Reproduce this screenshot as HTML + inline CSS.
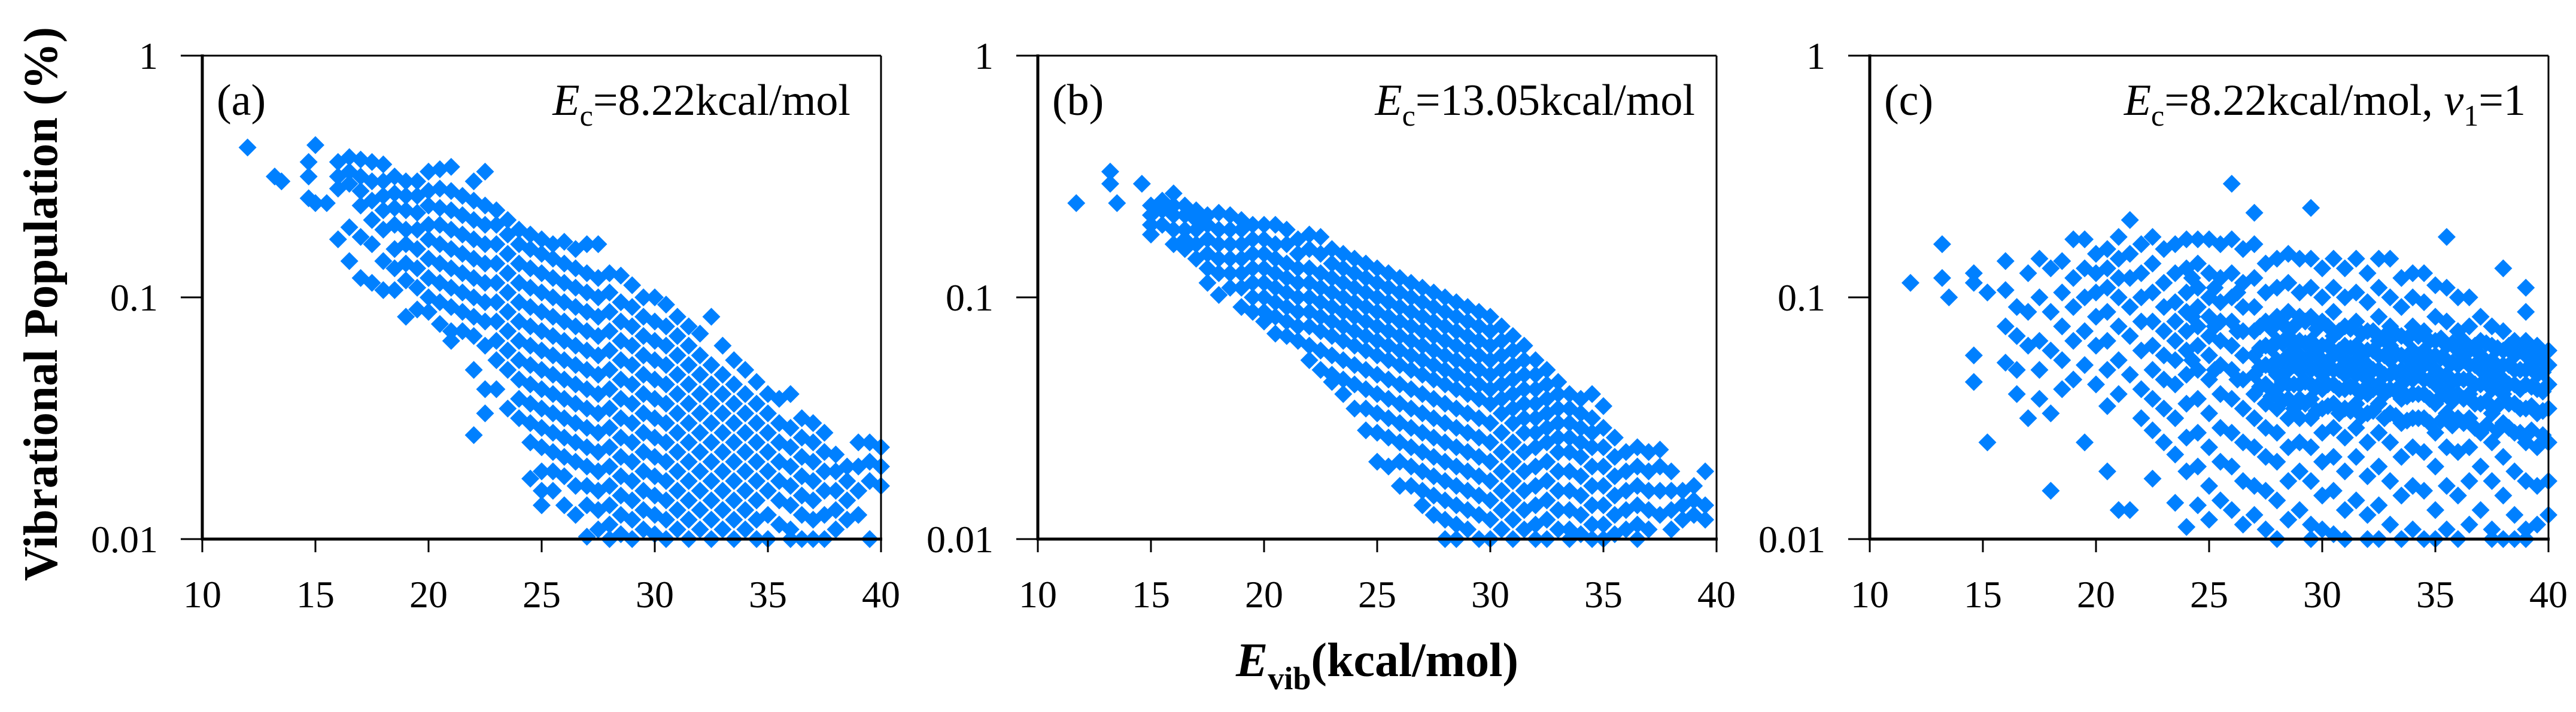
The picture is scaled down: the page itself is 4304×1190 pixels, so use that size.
<!DOCTYPE html>
<html><head><meta charset="utf-8">
<style>
html,body{margin:0;padding:0;background:#fff;}
svg{display:block;}
svg text{font-family:"Liberation Serif","DejaVu Serif",serif;fill:#000;}
</style></head>
<body>
<svg id="fig" width="4304" height="1190" viewBox="0 0 4304 1190" xmlns="http://www.w3.org/2000/svg" font-family="Liberation Serif, serif">
  <rect x="0" y="0" width="4304" height="1190" fill="#fff"/>
  <text transform="translate(95,508) rotate(-90)" text-anchor="middle" font-size="80" font-weight="bold" textLength="926" lengthAdjust="spacingAndGlyphs">Vibrational Population (%)</text>
  <text x="2301" y="1130" text-anchor="middle" font-size="80" font-weight="bold"><tspan font-style="italic">E</tspan><tspan font-size="54" dy="22">vib</tspan><tspan dy="-22">(kcal/mol)</tspan></text>
  <g id="panels"></g>
</svg>
<script>
// x categories (kcal/mol) and log10(population %) ×100 values per column
const xsA = [12,13.2,13.5,14.7,15,15.5,16,16.5,17,17.5,18,18.5,19,19.5,20,20.5,21,21.5,22,22.5,23,23.5,24,24.5,25,25.5,26,26.5,27,27.5,28,28.5,29,29.5,30,30.5,31,31.5,32,32.5,33,33.5,34,34.5,35,35.5,36,36.5,37,37.5,38,38.5,39,39.5,40];
const ysA = [[-38],[-50],[-52],[-44,-50,-59],[-37,-61],[-61],[-44,-50,-55,-76],[-42,-48,-53,-71,-85],[-43,-50,-56,-62,-75,-92],[-44,-52,-60,-68,-78,-94],[-45,-52,-58,-64,-72,-85,-97],[-50,-57,-63,-70,-80,-88,-97],[-52,-58,-64,-72,-78,-86,-93,-108],[-52,-58,-65,-72,-80,-88,-96,-105],[-48,-56,-62,-70,-76,-84,-92,-100,-106],[-47,-55,-63,-70,-78,-86,-94,-102,-111],[-46,-56,-64,-72,-80,-88,-96,-104,-114,-118],[-58,-66,-74,-82,-90,-98,-106,-114],[-52,-60,-68,-76,-84,-92,-100,-108,-116,-130,-157],[-48,-62,-70,-78,-86,-94,-102,-110,-120,-138,-148],[-64,-70,-78,-86,-94,-102,-110,-118,-126,-138],[-68,-74,-82,-90,-98,-106,-114,-122,-130,-146],[-72,-78,-86,-94,-102,-110,-118,-126,-134,-142,-150],[-74,-80,-88,-96,-104,-112,-120,-128,-136,-144,-152,-160,-175],[-76,-82,-90,-98,-106,-114,-122,-130,-138,-146,-154,-162,-172,-180,-186],[-78,-84,-92,-100,-108,-116,-124,-132,-140,-148,-156,-164,-172,-180],[-77,-86,-94,-102,-110,-118,-126,-134,-142,-150,-158,-166,-174,-186],[-80,-88,-96,-104,-112,-120,-128,-136,-144,-152,-160,-168,-178,-190],[-78,-90,-98,-106,-114,-122,-130,-138,-146,-154,-162,-170,-178,-186,-199],[-78,-92,-100,-108,-116,-124,-132,-140,-148,-156,-164,-172,-180,-188,-196],[-90,-98,-106,-114,-122,-130,-138,-146,-154,-162,-170,-178,-186,-194,-200],[-91,-102,-110,-118,-126,-134,-142,-150,-158,-166,-174,-182,-190,-198],[-95,-104,-112,-120,-128,-136,-144,-152,-160,-168,-176,-184,-192,-200],[-100,-108,-116,-124,-132,-140,-148,-156,-164,-172,-180,-188,-196],[-100,-110,-118,-126,-134,-142,-150,-158,-166,-174,-182,-190,-198],[-103,-112,-120,-128,-136,-144,-152,-160,-168,-176,-184,-192,-200],[-108,-116,-124,-132,-140,-148,-156,-164,-172,-180,-188,-196],[-112,-120,-128,-136,-144,-152,-160,-168,-176,-184,-192,-200],[-115,-124,-132,-140,-148,-156,-164,-172,-180,-188,-196],[-108,-128,-136,-144,-152,-160,-168,-176,-184,-192,-200],[-120,-132,-140,-148,-156,-164,-172,-180,-188,-196],[-126,-136,-144,-152,-160,-168,-176,-184,-192,-200],[-130,-140,-148,-156,-164,-172,-180,-188,-196],[-135,-144,-152,-160,-168,-176,-184,-192,-200],[-140,-148,-156,-164,-172,-180,-190,-200],[-142,-152,-160,-168,-176,-184,-194],[-140,-154,-162,-170,-178,-186,-196,-200],[-150,-158,-166,-174,-182,-190,-200],[-152,-160,-168,-176,-184,-192,-200],[-156,-164,-172,-180,-190,-200],[-165,-172,-180,-188,-196],[-170,-176,-184,-192],[-160,-170,-180,-190],[-160,-168,-176,-200],[-162,-170,-178]];

const xsB = [11.7,13.2,13.5,14.6,15,15.5,16,16.5,17,17.5,18,18.5,19,19.5,20,20.5,21,21.5,22,22.5,23,23.5,24,24.5,25,25.5,26,26.5,27,27.5,28,28.5,29,29.5,30,30.5,31,31.5,32,32.5,33,33.5,34,34.5,35,35.5,36,36.5,37,37.5,38,38.5,39,39.5];
const ysB = [[-61],[-48,-53],[-61],[-53],[-62,-66,-70,-74],[-60,-64,-70],[-57,-62,-66,-72,-78],[-62,-66,-72,-76,-80],[-64,-68,-72,-78,-84],[-66,-70,-76,-82,-88,-94],[-65,-72,-78,-84,-90,-99],[-66,-72,-78,-84,-90,-96],[-68,-72,-78,-84,-90,-96,-104],[-70,-76,-82,-88,-94,-100,-106],[-70,-76,-82,-88,-94,-100,-106,-110],[-70,-78,-84,-90,-96,-102,-108,-115],[-72,-78,-86,-92,-98,-104,-110,-116],[-76,-82,-88,-94,-100,-106,-112,-118],[-74,-80,-88,-94,-100,-106,-112,-120,-126],[-75,-82,-90,-96,-102,-108,-114,-122,-130],[-80,-86,-92,-98,-104,-110,-116,-124,-132,-135],[-82,-88,-94,-100,-106,-112,-118,-126,-134,-140],[-84,-90,-96,-102,-108,-114,-120,-128,-136,-146],[-86,-92,-98,-104,-110,-116,-122,-130,-138,-146,-155],[-88,-94,-100,-106,-112,-118,-124,-132,-140,-148,-156,-168],[-90,-96,-102,-108,-114,-120,-126,-134,-142,-150,-158,-170],[-92,-98,-104,-110,-116,-122,-128,-136,-144,-152,-160,-168,-178],[-94,-100,-106,-112,-118,-124,-130,-138,-146,-154,-162,-170,-178],[-96,-102,-108,-114,-120,-126,-132,-140,-148,-156,-164,-172,-180,-186],[-98,-104,-110,-116,-122,-128,-134,-142,-150,-158,-166,-174,-182,-190],[-100,-106,-112,-118,-124,-130,-136,-144,-152,-160,-168,-176,-184,-192,-200],[-102,-108,-114,-120,-126,-132,-138,-146,-154,-162,-170,-178,-186,-194,-200],[-104,-110,-116,-122,-128,-134,-140,-148,-156,-164,-172,-180,-188,-196],[-106,-112,-118,-124,-130,-136,-142,-150,-158,-166,-174,-182,-190,-200],[-108,-114,-120,-126,-132,-138,-144,-152,-160,-168,-176,-184,-192,-200],[-112,-118,-124,-130,-136,-142,-148,-156,-164,-172,-180,-188,-196],[-116,-122,-128,-134,-140,-146,-152,-160,-168,-176,-184,-192,-200],[-120,-126,-132,-138,-144,-150,-156,-164,-172,-180,-188,-196],[-126,-132,-138,-144,-150,-156,-162,-170,-178,-186,-194,-200],[-130,-136,-142,-148,-154,-160,-168,-176,-184,-192,-200],[-135,-140,-146,-152,-158,-164,-172,-180,-188,-196],[-140,-146,-152,-158,-164,-172,-180,-188,-196,-200],[-142,-148,-154,-160,-166,-174,-182,-190,-198],[-140,-150,-156,-162,-170,-178,-186,-194,-200],[-145,-154,-162,-170,-178,-186,-194,-200],[-158,-166,-174,-182,-190,-198],[-164,-172,-180,-188,-196],[-162,-170,-178,-186,-194,-200],[-164,-172,-180,-188,-196],[-163,-170,-180,-190],[-172,-180,-188,-196],[-180,-186,-192],[-178,-184,-190],[-172,-186,-192]];

const xsC = [11.8,13.2,13.5,14.6,15.2,16,16.5,17,17.5,18,18.5,19,19.5,20,20.5,21,21.5,22,22.5,23,23.5,24,24.5,25,25.5,26,26.5,27,27.5,28,28.5,29,29.5,30,30.5,31,31.5,32,32.5,33,33.5,34,34.5,35,35.5,36,36.5,37,37.5,38,38.5,39,39.5,40];
const ysC = [[-94],[-78,-92],[-100],[-90,-94,-124,-135],[-98,-160],[-85,-97,-112,-127],[-104,-116,-130,-140],[-90,-106,-120,-150],[-84,-100,-118,-130,-142],[-88,-106,-122,-148,-180],[-85,-98,-112,-126,-138],[-76,-92,-104,-118,-134],[-76,-88,-100,-114,-128,-160],[-82,-90,-98,-108,-120,-136],[-80,-88,-96,-106,-118,-130,-145,-172],[-75,-84,-92,-100,-112,-126,-140,-188],[-68,-82,-92,-104,-116,-132,-188],[-78,-90,-100,-110,-122,-138,-150],[-75,-86,-98,-110,-120,-130,-142,-155,-175],[-80,-94,-104,-114,-124,-134,-146,-160],[-78,-90,-102,-110,-118,-126,-136,-150,-165,-185],[-76,-88,-98,-106,-114,-122,-132,-144,-158,-172,-195],[-76,-86,-96,-104,-112,-120,-130,-142,-156,-170,-186],[-76,-90,-100,-108,-116,-124,-134,-148,-162,-178,-192],[-78,-92,-102,-110,-118,-128,-140,-154,-168,-184],[-53,-76,-90,-100,-110,-120,-130,-142,-156,-170,-188],[-80,-94,-104,-114,-124,-134,-146,-160,-176,-194],[-65,-78,-92,-104,-114,-124,-132,-140,-150,-162,-178,-190],[-86,-98,-110,-120,-128,-136,-144,-154,-166,-180,-196],[-84,-96,-108,-118,-126,-132,-138,-146,-156,-168,-184,-200],[-82,-94,-106,-116,-124,-130,-136,-142,-150,-162,-176,-192],[-84,-98,-108,-118,-124,-130,-136,-142,-150,-160,-172,-188],[-63,-84,-96,-108,-118,-124,-130,-136,-142,-150,-162,-176,-194,-200],[-88,-100,-110,-120,-126,-132,-138,-146,-156,-168,-182,-196],[-84,-96,-106,-116,-124,-130,-136,-144,-154,-166,-180,-198],[-88,-100,-112,-120,-126,-132,-138,-146,-158,-172,-188,-200],[-84,-98,-110,-120,-126,-132,-138,-144,-154,-166,-184],[-90,-102,-114,-122,-128,-134,-140,-148,-160,-174,-190,-200],[-84,-96,-108,-118,-124,-130,-136,-144,-156,-170,-186,-200],[-84,-100,-112,-120,-126,-132,-138,-148,-160,-176,-194],[-92,-104,-116,-124,-130,-136,-142,-152,-166,-182,-200],[-90,-100,-112,-122,-128,-134,-140,-150,-162,-178,-196],[-90,-102,-114,-122,-128,-134,-140,-150,-164,-180,-200],[-95,-108,-118,-124,-130,-136,-144,-156,-170,-188,-200],[-75,-96,-110,-120,-126,-132,-138,-148,-162,-178,-196],[-100,-114,-122,-128,-134,-140,-150,-164,-182,-200],[-100,-112,-122,-128,-134,-140,-150,-162,-176,-194],[-108,-118,-124,-130,-136,-144,-156,-170,-188],[-112,-120,-126,-132,-138,-148,-160,-176,-196,-200],[-88,-114,-122,-128,-134,-140,-152,-166,-182,-200],[-118,-124,-130,-136,-144,-156,-172,-190,-200],[-96,-106,-118,-124,-130,-136,-146,-160,-176,-196,-200],[-120,-126,-132,-138,-148,-162,-178,-194],[-122,-128,-136,-146,-160,-176,-190]];
// extra dense core of panel (c)
const xsC2 = [24.25,25.25,26.25,27.25,27.75,28.25,28.75,29.25,29.75,30.25,30.75,31.25,31.75,32.25,32.75,33.25,33.75,34.25,34.75,35.25,35.75,36.25,36.75,37.25,37.75,38.25,38.75,39.25,39.75];
const ysC2 = [[-92,-108,-126],[-96,-112,-130],[-98,-114,-134],[-112,-121,-129,-137],[-113,-121,-129,-141],[-111,-119,-127,-135,-143],[-112,-120,-128,-136,-146],[-110,-119,-127,-135,-144],[-113,-121,-129,-137,-147],[-112,-120,-128,-136,-145],[-114,-122,-130,-138,-148],[-113,-121,-129,-137,-147],[-115,-123,-131,-139,-149],[-114,-122,-130,-138,-147],[-116,-124,-132,-140,-150],[-115,-123,-131,-139,-149],[-117,-125,-133,-141,-151],[-116,-124,-132,-140,-150],[-118,-126,-134,-142,-152],[-117,-125,-133,-141,-151],[-119,-127,-135,-143,-153],[-118,-126,-134,-142,-152],[-120,-128,-136,-144,-154],[-119,-127,-135,-143,-153],[-121,-129,-137,-145,-155],[-120,-128,-136,-144,-154],[-122,-130,-138,-146,-156],[-121,-129,-137,-145,-155],[-123,-131,-139,-147,-157]];

const xTicks = [10,15,20,25,30,35,40];
const yTicks = [1,0.1,0.01];
const yTickLabels = ["1","0.1","0.01"];
const panelLetters = ["(a)","(b)","(c)"];

const NS = "http://www.w3.org/2000/svg";
const TOP = 93, BOT = 901, W = 1134;
const panelsCfg = [
  {left:338, series:[[xsA, ysA]], label:"a", annRight:1421},
  {left:1734, series:[[xsB, ysB]], label:"b", annRight:2832},
  {left:3124, series:[[xsC, ysC],[xsC2, ysC2]], label:"c", annRight:4220}
];
function mk(tag, attrs, parent){ const e=document.createElementNS(NS,tag); for(const k in attrs) e.setAttribute(k,attrs[k]); parent.appendChild(e); return e; }
const root = document.getElementById("panels");

panelsCfg.forEach((p, pi) => {
  const g = mk("g", {}, root);
  
  
  const xScale = v => p.left + (v - 10) / 30 * W;
  const yScale = v => TOP + (0 - Math.log10(v)) / 2 * (BOT - TOP);
  const yScaleLog = l => TOP + (0 - l) / 2 * (BOT - TOP);

  const pts = mk("g", {fill:"#0080FF"}, g);
  
  
  const s = 15;
  p.series.forEach(([xs, ys]) => {
    xs.forEach((xv, i) => {
      ys[i].forEach(lv => {
        const cx = xScale(xv), cy = yScaleLog(lv / 100);
        const d = mk("path", {d:`M${cx} ${cy-s}L${cx+s} ${cy}L${cx} ${cy+s}L${cx-s} ${cy}Z`}, pts);
        
        
      });
    });
  });

  const fr = mk("g", {stroke:"#000", fill:"none"}, g);
  
  
  mk("line", {x1:p.left, y1:TOP, x2:p.left+W, y2:TOP, "stroke-width":3}, fr);
  mk("line", {x1:p.left+W, y1:TOP, x2:p.left+W, y2:BOT, "stroke-width":3}, fr);
  mk("line", {x1:p.left, y1:TOP-2, x2:p.left, y2:BOT+2, "stroke-width":5}, fr);
  mk("line", {x1:p.left-2, y1:BOT, x2:p.left+W+2, y2:BOT, "stroke-width":5}, fr);

  xTicks.forEach(t => {
    const x = xScale(t);
    const tk = mk("line", {x1:x, y1:BOT, x2:x, y2:BOT+22, stroke:"#000", "stroke-width":3}, g);
    
    
    const tl = mk("text", {x:x, y:1015, "text-anchor":"middle", "font-size":64}, g);
    tl.textContent = String(t);
    
    
  });
  yTicks.forEach((t, i) => {
    const y = yScale(t);
    const tk = mk("line", {x1:p.left-36, y1:y, x2:p.left, y2:y, stroke:"#000", "stroke-width":3}, g);
    
    
    const tl = mk("text", {x:p.left-74, y:y+22, "text-anchor":"end", "font-size":64}, g);
    tl.textContent = yTickLabels[i];
    
    
  });

  const lt = mk("text", {x:p.left+24, y:192, "font-size":74}, g);
  lt.textContent = panelLetters[pi];
  
  

  const an = mk("text", {x:p.annRight, y:192, "text-anchor":"end", "font-size":74}, g);
  
  
  if (p.label === "a") an.innerHTML = '<tspan font-style="italic">E</tspan><tspan font-size="50" dy="18">c</tspan><tspan dy="-18">=8.22kcal/mol</tspan>';
  if (p.label === "b") an.innerHTML = '<tspan font-style="italic">E</tspan><tspan font-size="50" dy="18">c</tspan><tspan dy="-18">=13.05kcal/mol</tspan>';
  if (p.label === "c") an.innerHTML = '<tspan font-style="italic">E</tspan><tspan font-size="50" dy="18">c</tspan><tspan dy="-18">=8.22kcal/mol, </tspan><tspan font-style="italic">v</tspan><tspan font-size="50" dy="18">1</tspan><tspan dy="-18">=1</tspan>';
});
</script>
</body></html>
